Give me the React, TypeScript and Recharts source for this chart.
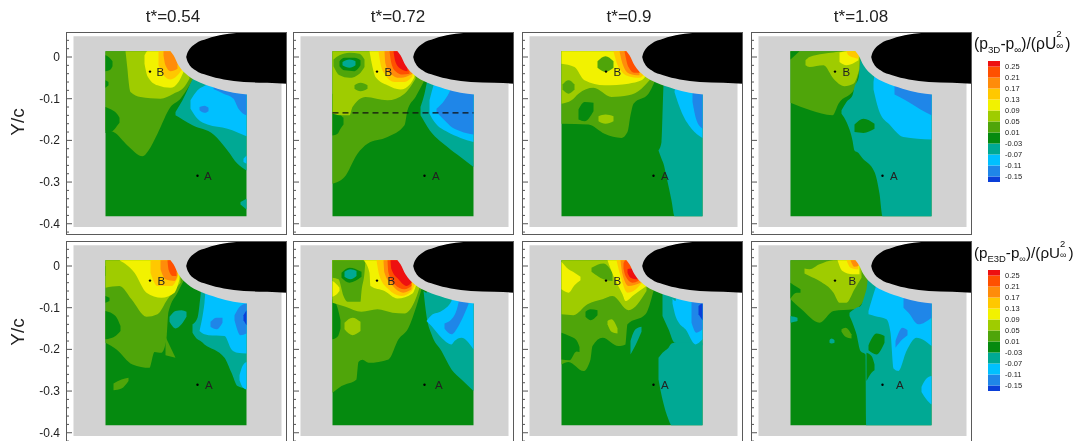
import { ComposedChart, Area, Line, Scatter, XAxis, YAxis, LabelList } from 'recharts';

// contour levels, lowest band first (legend order is reversed on screen)
const levelColors = ['#0a3fd8', '#1f86e8', '#00c0ff', '#00a994', '#058a0f', '#4fa50a', '#9fcc00', '#f2f200', '#ffc800', '#ff8c0a', '#ff5000', '#ee1010'];
const levelEdges = [-0.17, -0.15, -0.11, -0.07, -0.03, 0.01, 0.05, 0.09, 0.13, 0.17, 0.21, 0.25, 0.27];
const legendTicks = [-0.15, -0.11, -0.07, -0.03, 0.01, 0.05, 0.09, 0.13, 0.17, 0.21, 0.25];

const titles = ['t*=0.54', 't*=0.72', 't*=0.9', 't*=1.08'];
const yMajor = [0, -100, -200, -300, -400];
const yTicks = [40, 20, 0, -20, -40, -60, -80, -100, -120, -140, -160, -180, -200, -220, -240, -260, -280, -300, -320, -340, -360, -380, -400, -420];
const xMajor = [-10, 35.5, 81, 126.5, 172];
const xTicks = [-28, -19, -10, -1, 8, 17, 26, 35.5, 44.5, 54, 63, 72, 81, 90, 99, 108, 117, 126.5, 135.5, 145, 154, 163, 172];

type Row = [number, number, number]; // station, lower Y/c*1000, upper Y/c*1000
type Region = [number, Row[]];

// region outlines share one station axis, 0..141 across the probed window
const window_: Row[] = [[0, -382, 14], [141, -382, 14]];
const grey: Row[] = [[-32, -408, 50], [176, -408, 50]];
const crescent: Row[] = [[65, 14, 16], [68, 4, 16], [73, -20, 16], [82, -44, 16], [95, -62, 16], [112, -76, 16], [128, -86, 16], [142, -90, 16]];
const airfoil: Row[] = [[80.7, 0, 0], [81.5, -7, 7], [83.3, -16, 16], [90, -32, 32], [101.7, -44, 44], [118.3, -54, 54], [138.3, -60, 59], [161.7, -62, 60], [181.5, -64, 60]];

const p3d054: Region[] = [
  [5, [[0, -176, 14], [8, -180, 14], [22, -212, 14], [37, -238, 14], [43, -224, 14], [52, -184, 14], [65, -120, 14], [75, -100, 14], [83, -72, 14], [88, -52, 14]]],
  [4, [[0, -182, -120], [7, -178, -128], [12, -164, -138], [14, -158, -146]]],
  [4, [[0, -34, 4], [5, -30, -4], [7, -22, -10]]],
  [4, [[0, -74, -56], [3, -68, -60]]],
  [6, [[20, 14, 14], [22, -30, 14], [23, -56, 14], [25, -84, 14], [35, -96, 14], [55, -100, 14], [68, -88, 14], [78, -74, 14], [84, -52, 14]]],
  [7, [[39, -16, 4], [42, -46, 14], [52, -68, 14], [65, -74, 14], [73, -60, 14], [78, -36, 14]]],
  [8, [[53, -20, 14], [58, -44, 14], [65, -54, 14], [72, -44, 14], [77, -28, 14]]],
  [9, [[58, 4, 14], [60, -20, 14], [65, -34, 14], [72, -28, 14]]],
  [3, [[70, -140, -132], [77, -150, -104], [87, -164, -54], [108, -186, 14], [122, -224, 14], [132, -256, 14], [141, -272, 14]]],
  [2, [[85, -124, -104], [92, -148, -80], [102, -162, -64], [122, -172, 14], [141, -190, 14]]],
  [1, [[108, -77, -77], [118, -88, 14], [128, -100, 14], [133, -124, 14], [141, -140, 14]]],
  [1, [[94, -128, -120], [99, -134, -117], [103, -130, -122]]],
  [3, [[135, -354, -348], [141, -366, -340]]],
  [2, [[138, -252, -244], [141, -256, -236]]],
];

const p3d072: Region[] = [
  [5, [[0, -304, 14], [12, -288, 14], [25, -232, 14], [35, -208, 14], [55, -192, 14], [72, -164, 14], [75, -128, 14], [83, -96, 14], [92, -56, 14]]],
  [4, [[0, -188, -88], [5, -184, -96], [8, -172, -136], [11, -162, -146]]],
  [6, [[0, -136, 14], [10, -140, 14], [17, -140, 14], [20, -120, 14], [33, -96, 14], [55, -104, 14], [72, -88, 14], [83, -52, 14]]],
  [5, [[1, -22, -6], [7, -44, 4], [17, -50, 10], [27, -40, 8], [32, -24, -6]]],
  [4, [[7, -22, -10], [12, -32, -2], [22, -34, -2], [28, -20, -8]]],
  [3, [[10, -20, -12], [17, -26, -6], [23, -20, -10]]],
  [5, [[22, -76, -68], [28, -82, -62], [35, -76, -68]]],
  [7, [[37, 14, 14], [40, -24, 14], [43, -48, 14], [55, -68, 14], [68, -78, 14], [78, -64, 14], [82, -48, 14]]],
  [8, [[46, 14, 14], [48, -16, 14], [52, -40, 14], [62, -60, 14], [72, -60, 14], [80, -46, 14]]],
  [9, [[52, 14, 14], [53, -16, 14], [58, -40, 14], [67, -50, 14], [75, -46, 14], [80, -40, 14]]],
  [10, [[57, 14, 14], [59, -16, 14], [63, -34, 14], [70, -42, 14], [77, -40, 14]]],
  [11, [[61, 14, 14], [63, -12, 14], [68, -28, 14], [75, -34, 14]]],
  [3, [[88, -140, -120], [92, -156, -88], [95, -168, -56], [115, -216, 14], [128, -240, 14], [141, -264, 14]]],
  [2, [[97, -136, -104], [102, -156, -60], [115, -180, 14], [128, -194, 14], [141, -204, 14]]],
  [1, [[104, -132, -124], [112, -152, -104], [118, -166, -78], [128, -178, 14], [141, -186, 14]]],
];

const p3d090: Region[] = [
  [5, [[0, -160, 14], [27, -162, 14], [43, -184, 14], [60, -194, 14], [66, -180, 14], [69, -140, 14], [72, -112, 14], [87, -88, 14], [93, -60, 14]]],
  [6, [[0, -112, 14], [10, -104, 14], [17, -88, 14], [32, -74, 14], [50, -96, 14], [67, -92, 14], [80, -76, 14], [88, -56, 14]]],
  [7, [[0, -16, 14], [13, -24, 14], [23, -56, 14], [43, -68, 14], [67, -64, 14], [80, -56, 14], [85, -44, 14]]],
  [5, [[1, -78, -66], [7, -88, -56], [13, -78, -66]]],
  [5, [[36, -26, -10], [44, -36, 2], [52, -26, -10]]],
  [4, [[17, -150, -126], [23, -154, -108], [32, -130, -110]]],
  [6, [[37, -154, -142], [44, -160, -138], [52, -154, -142]]],
  [8, [[52, 14, 14], [57, -24, 14], [67, -46, 14], [78, -50, 14], [83, -40, 14]]],
  [9, [[58, 14, 14], [61, -16, 14], [68, -40, 14], [78, -44, 14]]],
  [10, [[63, 14, 14], [67, -24, 14], [73, -38, 14], [78, -38, 14]]],
  [3, [[97, -224, -224], [100, -244, -204], [102, -256, -68], [105, -288, 14], [110, -344, 14], [113, -382, 14], [141, -382, 14]]],
  [2, [[113, -84, -84], [120, -132, 14], [130, -172, 14], [141, -194, 14]]],
  [1, [[131, -108, -90], [135, -152, 14], [141, -172, 14]]],
];

const p3d108: Region[] = [
  [5, [[0, -110, 14], [20, -128, 14], [42, -140, 14], [48, -112, 14], [64, -76, 14], [68, -44, 14], [71, -20, 14]]],
  [4, [[0, -6, 14], [9, 14, 14]]],
  [6, [[15, -20, -8], [19, -24, 0], [33, -20, 8], [43, -52, 11], [54, -70, 14], [63, -64, 14], [69, -28, 14]]],
  [7, [[49, -12, 11], [56, -20, 14], [68, -8, 14]]],
  [8, [[56, 14, 14], [58, 4, 14], [68, -4, 14]]],
  [3, [[51, -136, -128], [56, -156, -108], [62, -200, -92], [64, -224, -72], [68, -230, -50], [71, -240, 14], [84, -276, 14], [89, -328, 14], [92, -382, 14], [141, -382, 14]]],
  [4, [[64, -180, -162], [73, -182, -148], [84, -172, -160]]],
  [2, [[83, -78, -60], [89, -132, 14], [99, -162, 14], [113, -192, 14], [141, -198, 14]]],
  [1, [[104, -90, -70], [115, -104, 14], [130, -126, 14], [141, -140, 14]]],
];

const pe3d054: Region[] = [
  [5, [[0, -184, 14], [11, -200, 14], [27, -236, 14], [44, -244, 14], [49, -206, 14], [56, -208, 14], [61, -176, 14], [63, -110, 14], [72, -64, 14], [78, -36, 14]]],
  [5, [[60, -214, -170], [70, -220, -220]]],
  [4, [[0, -176, -108], [10, -168, -120], [15, -156, -144]]],
  [4, [[0, -88, -72], [4, -84, -76]]],
  [4, [[0, -24, 0], [5, -18, -6]]],
  [5, [[8, -298, -282], [16, -294, -272], [23, -276, -268]]],
  [6, [[0, -52, 14], [14, -48, 14], [26, -80, 14], [41, -122, 14], [52, -116, 14], [62, -80, 14], [75, -40, 14]]],
  [7, [[14, 14, 14], [29, -16, 14], [41, -64, 14], [56, -76, 14], [69, -64, 14], [74, -32, 14]]],
  [8, [[45, -16, 14], [52, -48, 14], [66, -48, 14], [72, -28, 14]]],
  [9, [[55, -8, 14], [60, -32, 14], [69, -36, 14], [72, -24, 14]]],
  [10, [[62, 14, 14], [63, -8, 14], [67, -24, 14], [71, -24, 14]]],
  [3, [[64, -134, -122], [70, -150, -108], [76, -140, -106], [81, -122, -110]]],
  [3, [[87, -160, -140], [92, -176, -124], [95, -180, -72], [99, -188, 14], [119, -220, 14], [126, -256, 14], [132, -288, 14], [141, -294, 14]]],
  [2, [[94, -156, -156], [99, -164, -88], [103, -166, 14], [119, -168, 14], [126, -200, 14], [132, -208, 14], [141, -210, 14]]],
  [2, [[134, -274, -262], [137, -290, -240], [141, -296, -230]]],
  [1, [[105, -146, -134], [111, -152, -124], [117, -136, -124]]],
  [1, [[129, -130, -118], [135, -166, -96], [141, -162, -90]]],
  [0, [[138, -130, -118], [141, -142, -106]]],
];

const pe3d072: Region[] = [
  [5, [[0, -304, 14], [9, -288, 14], [24, -272, 14], [26, -230, 14], [30, -225, 14], [36, -232, 14], [56, -224, 14], [66, -176, 14], [76, -148, 14], [84, -96, 14], [89, -56, 14]]],
  [4, [[0, -176, -80], [5, -170, -100], [8, -150, -130]]],
  [6, [[12, -152, -136], [20, -166, -124], [28, -156, -134]]],
  [6, [[0, -88, 14], [13, -98, 14], [29, -110, 14], [45, -104, 14], [60, -112, 14], [72, -114, 14], [83, -80, 14], [87, -52, 14]]],
  [5, [[0, -28, 14], [6, -32, 14], [11, -72, 14], [15, -86, 14], [28, -86, 14], [29, -60, 14], [32, -16, 14], [33, 14, 14]]],
  [4, [[9, -28, -16], [17, -40, -4], [29, -26, -14]]],
  [3, [[12, -26, -14], [18, -32, -8], [24, -24, -12]]],
  [7, [[0, -74, -36], [5, -66, -46], [7, -60, -52]]],
  [7, [[31, 14, 14], [37, -16, 14], [38, -48, 14], [52, -60, 14], [65, -78, 14], [80, -66, 14], [84, -44, 14]]],
  [8, [[44, 14, 14], [47, -24, 14], [56, -56, 14], [69, -72, 14], [79, -60, 14], [83, -40, 14]]],
  [9, [[51, 14, 14], [52, -16, 14], [59, -44, 14], [71, -64, 14], [79, -56, 14]]],
  [10, [[55, 14, 14], [56, -16, 14], [62, -44, 14], [72, -56, 14], [79, -48, 14]]],
  [11, [[58, 14, 14], [59, -8, 14], [66, -32, 14], [74, -48, 14], [79, -40, 14]]],
  [3, [[91, -60, -60], [94, -120, -64], [99, -164, 14], [109, -204, 14], [119, -248, 14], [129, -272, 14], [141, -300, 14]]],
  [2, [[94, -132, -132], [99, -144, -118], [109, -172, -108], [119, -188, -84], [122, -180, 14], [129, -172, 14], [141, -200, 14]]],
  [1, [[112, -150, -138], [119, -164, -128], [126, -144, -88], [131, -120, 14], [136, -92, 14]]],
];

const pe3d090: Region[] = [
  [5, [[0, -236, 14], [7, -230, 14], [22, -252, 14], [29, -224, 14], [31, -192, 14], [41, -172, 14], [57, -192, 14], [64, -188, 14], [66, -140, 14], [84, -116, 14], [92, -60, 14]]],
  [4, [[0, -224, -160], [8, -226, -168], [15, -205, -178], [18, -206, -194]]],
  [6, [[0, -116, 14], [12, -118, 14], [26, -92, 14], [41, -80, 14], [51, -72, 14], [67, -106, 14], [85, -60, 14]]],
  [4, [[24, -122, -110], [29, -130, -104], [36, -118, -106]]],
  [6, [[46, -140, -132], [50, -158, -128], [56, -162, -150]]],
  [3, [[69, -212, -180], [74, -190, -152], [80, -158, -146]]],
  [7, [[0, -56, 10], [7, -64, -8], [13, -46, -16], [19, -34, -26]]],
  [5, [[30, -14, -4], [42, -32, 6], [51, -36, -16]]],
  [7, [[46, 14, 14], [52, -24, 14], [61, -68, 14], [64, -84, 14], [72, -70, 14], [85, -48, 14]]],
  [8, [[55, 14, 14], [59, -24, 14], [66, -64, 14], [72, -60, 14], [82, -36, 14]]],
  [9, [[59, 14, 14], [61, -20, 14], [67, -48, 14], [79, -40, 14]]],
  [10, [[62, -6, 6], [64, -24, 14], [71, -40, 14], [77, -36, 14]]],
  [11, [[66, -16, -8], [69, -28, -6], [76, -32, -10]]],
  [3, [[101, -120, 14], [107, -152, 14], [113, -184, 14], [141, -190, 14]]],
  [3, [[97, -272, -220], [101, -320, -208], [107, -368, -196], [110, -382, -186], [113, -382, -184], [141, -382, -184]]],
  [2, [[111, -90, -78], [114, -120, -84], [117, -135, 14], [124, -152, 14], [134, -188, 14], [141, -176, 14]]],
  [1, [[130, -136, -92], [135, -160, 14], [141, -152, 14]]],
  [0, [[137, -116, -96], [141, -130, -88]]],
];

const pe3d108: Region[] = [
  [5, [[0, -80, 14], [11, -104, 14], [29, -136, 14], [43, -108, 14], [63, -104, 14], [76, -72, 14], [78, -40, 14]]],
  [4, [[0, -78, -40], [6, -64, -50], [10, -64, -56]]],
  [3, [[0, -136, -120], [4, -134, -122], [7, -132, -124]]],
  [6, [[14, -18, -6], [19, -24, -8], [29, -36, 4], [43, -64, 14], [49, -88, 14], [56, -88, 14], [64, -56, 14], [71, -28, 14]]],
  [7, [[47, 14, 14], [52, -12, 14], [62, -20, 14], [69, -20, 14]]],
  [8, [[56, 14, 14], [60, -4, 14], [68, -8, 14]]],
  [9, [[60, 14, 14], [64, -2, 14], [68, 0, 14]]],
  [5, [[51, -158, -152], [55, -170, -148], [61, -174, -164]]],
  [3, [[39, -184, -178], [41, -186, -174], [44, -184, -178]]],
  [3, [[59, -120, -112], [66, -164, -100], [70, -204, -96], [75, -212, -64], [76, -382, -56], [80, -382, 14], [141, -382, 14]]],
  [4, [[76, -276, -208], [81, -256, -216], [84, -250, -236]]],
  [4, [[78, -202, -190], [86, -212, -162], [94, -184, -168]]],
  [2, [[78, -116, -108], [84, -120, -60], [96, -128, 14], [100, -160, 14], [103, -246, 14], [108, -252, 14], [116, -204, 14], [126, -172, 14], [141, -192, 14]]],
  [1, [[113, -100, -86], [118, -112, 14], [128, -140, 14], [141, -124, 14]]],
  [1, [[105, -196, -180], [112, -176, -148], [117, -166, -154]]],
  [2, [[131, -302, -290], [136, -320, -270], [141, -332, -264]]],
];

const topRow = [p3d054, p3d072, p3d090, p3d108];
const bottomRow = [pe3d054, pe3d072, pe3d090, pe3d108];
const labelGaps = [[2, 3, 3, 3], [3, 6, 3, 9]];
const probes = [{ x: 44.5, y: -35, name: 'B' }, { x: 92, y: -285, name: 'A' }];
const sliceLine = [{ x: 0, y: -134 }, { x: 141, y: -134 }];

const frameLefts = [66, 293, 521.5, 750.5];
const GUTTER = 40;
const font = '"Liberation Sans", Arial, sans-serif';

const toBand = (rows: Row[]) => rows.map(([x, lo, hi]) => ({ x, r: [lo, hi] }));

function band(rows: Row[], fill: string, key: string, type: 'monotone' | 'linear' = 'monotone') {
  return <Area key={key} data={toBand(rows)} dataKey="r" type={type} fill={fill} fillOpacity={1} stroke="none" dot={false} activeDot={false} isAnimationActive={false} legendType="none" />;
}

function YTick({ x, y, payload, labelled }: any) {
  const major = yMajor.includes(payload.value);
  return (
    <g>
      <line x1={x} x2={x + (major ? 6 : 3)} y1={y} y2={y} stroke="#555" strokeWidth={1} />
      {major && labelled && (
        <text x={x - 6} y={y + 4} textAnchor="end" fontSize={12} fontFamily={font} fill="#222">
          {payload.value === 0 ? '0' : (payload.value / 1000).toFixed(1)}
        </text>
      )}
    </g>
  );
}

function XTick({ x, y, payload }: any) {
  const major = xMajor.includes(payload.value);
  return <line x1={x} x2={x} y1={y} y2={y - (major ? 6 : 3)} stroke="#555" strokeWidth={1} />;
}

function Panel({ regions, left, top, col, row }: { regions: Region[]; left: number; top: number; col: number; row: number }) {
  return (
    <div style={{ position: 'absolute', left: left - GUTTER, top }}>
      <ComposedChart width={221 + GUTTER} height={203} margin={{ top: 0, right: 0, bottom: 0, left: 0 }}>
        <XAxis dataKey="x" type="number" domain={[-39.5, 181.5]} ticks={xTicks} interval={0} height={0} allowDataOverflow axisLine={false} tickLine={false} tickSize={0} tickMargin={0} tick={<XTick />} />
        <YAxis type="number" domain={[-427, 60]} ticks={yTicks} interval={0} width={GUTTER} allowDataOverflow axisLine={false} tickLine={false} tickSize={0} tickMargin={0} tick={<YTick labelled={col === 0} />} />
        {band(grey, '#d2d2d2', 'grey', 'linear')}
        {band(window_, levelColors[4], 'window', 'linear')}
        {regions.map(([level, rows], i) => band(rows, levelColors[level], `r${i}`))}
        {band(crescent, '#d2d2d2', 'crescent')}
        {band(airfoil, '#000000', 'airfoil')}
        {row === 0 && col === 1 && (
          <Line data={sliceLine} dataKey="y" stroke="#111" strokeWidth={1.2} strokeDasharray="6 4" dot={false} activeDot={false} isAnimationActive={false} legendType="none" />
        )}
        <Scatter data={probes} dataKey="y" fill="#000" isAnimationActive={false} legendType="none" shape={(p: any) => <circle cx={p.cx} cy={p.cy} r={1.2} fill="#000" />}>
          <LabelList dataKey="name" position="right" offset={labelGaps[row][col]} style={{ fontSize: 11.5, fontFamily: font, fill: '#222' }} />
        </Scatter>
      </ComposedChart>
      <div style={{ position: 'absolute', left: GUTTER, top: 0, width: 221, height: 203, boxSizing: 'border-box', border: '1.5px solid #5a5a5a' }} />
    </div>
  );
}

function ColorLegend({ top, height }: { top: number; height: number }) {
  return (
    <div style={{ position: 'absolute', left: 988, top }}>
      <ComposedChart width={52} height={height} margin={{ top: 0, right: 0, bottom: 0, left: 0 }}>
        <XAxis dataKey="x" type="number" domain={[0, 1]} hide />
        <YAxis orientation="right" type="number" domain={[-0.17, 0.27]} ticks={legendTicks} interval={0} width={40} axisLine={false} tickLine={false} tickSize={0} tickMargin={5}
          tick={{ fontSize: 7.5, fontFamily: font, fill: '#222' }} tickFormatter={(v: number) => v.toFixed(2)} />
        {levelColors.map((c, i) => (
          <Area key={c} data={[{ x: 0, r: [levelEdges[i], levelEdges[i + 1]] }, { x: 1, r: [levelEdges[i], levelEdges[i + 1]] }]} dataKey="r" type="linear" fill={c} fillOpacity={1} stroke="none" dot={false} activeDot={false} isAnimationActive={false} legendType="none" />
        ))}
      </ComposedChart>
    </div>
  );
}

function LegendTitle({ sub, top, left, size }: { sub: string; top: number; left: number; size: number }) {
  const small = { fontSize: size * 0.62, position: 'relative' as const, top: size * 0.25 };
  return (
    <div style={{ position: 'absolute', left, top, fontSize: size, fontFamily: font, color: '#111', whiteSpace: 'nowrap' }}>
      (p<span style={small}>{sub}</span>-p<span style={small}>∞</span>)/(ρU
      <span style={{ display: 'inline-block', width: size * 0.56, position: 'relative', height: size }}>
        <span style={{ position: 'absolute', left: 0, top: -size * 0.3, fontSize: size * 0.62 }}>2</span>
        <span style={{ position: 'absolute', left: 0, top: size * 0.42, fontSize: size * 0.62 }}>∞</span>
      </span>
      )
    </div>
  );
}

const axisTitle = (top: number) => (
  <div style={{ position: 'absolute', left: 18, top, transform: 'translate(-50%, -50%) rotate(-90deg)', fontSize: 19, fontFamily: font, color: '#222' }}>Y/c</div>
);

export default function App() {
  const titleCentres = [173, 398, 629, 861];
  return (
    <div style={{ position: 'absolute', left: 0, top: 0, width: 1075, height: 441, overflow: 'hidden', background: '#fff', filter: 'blur(0.4px)' }}>
      {titles.map((t, i) => (
        <div key={t} style={{ position: 'absolute', left: titleCentres[i], top: 7, transform: 'translateX(-50%)', fontSize: 17, fontFamily: font, color: '#222', whiteSpace: 'nowrap' }}>{t}</div>
      ))}
      {topRow.map((r, i) => <Panel key={i} regions={r} left={frameLefts[i]} top={32} col={i} row={0} />)}
      {bottomRow.map((r, i) => <Panel key={i} regions={r} left={frameLefts[i]} top={241} col={i} row={1} />)}
      {axisTitle(122)}
      {axisTitle(332)}
      <LegendTitle sub="3D" top={33} left={974} size={15.7} />
      <LegendTitle sub="E3D" top={243} left={974} size={15.2} />
      <ColorLegend top={61} height={121} />
      <ColorLegend top={270} height={121} />
    </div>
  );
}
